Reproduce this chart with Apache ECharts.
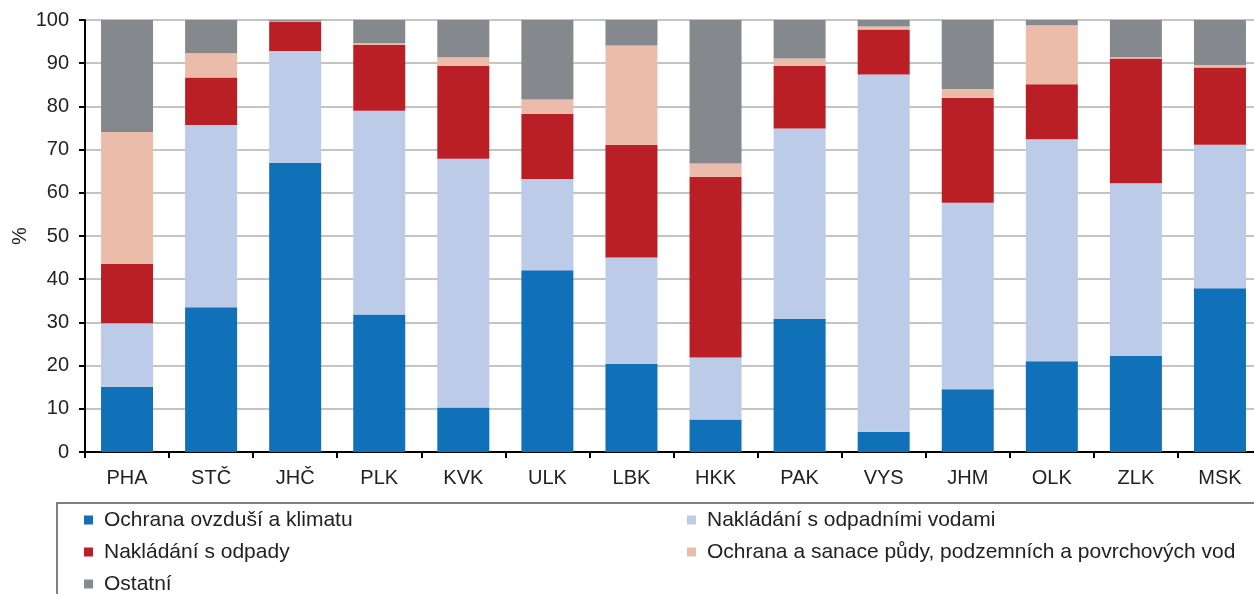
<!DOCTYPE html>
<html>
<head>
<meta charset="utf-8">
<script src="https://cdn.jsdelivr.net/npm/echarts@6/dist/echarts.min.js"></script>
<style>
  html, body { margin: 0; padding: 0; background: #fff; }
  #chart { width: 1254px; height: 594px; }
</style>
</head>
<body>
<div id="chart"></div>
<script>
const regions = ['PHA', 'STČ', 'JHČ', 'PLK', 'KVK', 'ULK', 'LBK', 'HKK', 'PAK', 'VYS', 'JHM', 'OLK', 'ZLK', 'MSK']
const yTicks = [0, 10, 20, 30, 40, 50, 60, 70, 80, 90, 100]

// podíly v %
const ovzdusi = [15.1, 33.5, 66.9, 31.8, 10.3, 42.1, 20.4, 7.5, 30.8, 4.7, 14.5, 21.0, 22.3, 37.9]
const odpadniVody = [14.7, 42.2, 25.9, 47.2, 57.6, 21.1, 24.6, 14.4, 44.1, 82.7, 43.2, 51.4, 39.9, 33.2]
const odpady = [13.7, 11.0, 6.8, 15.2, 21.5, 15.1, 26.1, 41.8, 14.5, 10.4, 24.3, 12.7, 28.9, 17.9]
const puda = [30.6, 5.6, 0.1, 0.4, 2.0, 3.3, 23.0, 3.1, 1.7, 0.7, 2.0, 13.7, 0.3, 0.6]
const ostatni = [25.9, 7.7, 0.3, 5.4, 8.6, 18.4, 5.9, 33.2, 8.9, 1.5, 16.0, 1.2, 8.6, 10.4]

const seriesDefs = [
  { name: 'Ochrana ovzduší a klimatu', data: ovzdusi, color: '#1070b8' },
  { name: 'Nakládání s odpadními vodami', data: odpadniVody, color: '#bccbe7' },
  { name: 'Nakládání s odpady', data: odpady, color: '#b91f24' },
  { name: 'Ochrana a sanace půdy, podzemních a povrchových vod', data: puda, color: '#ebbcaa' },
  { name: 'Ostatní', data: ostatni, color: '#85888d' },
]

// rozmístění legendy: [sloupec x, řádek y středu]
const legendPos = [[84, 520], [687, 520], [84, 552], [687, 552], [84, 584]]

const font = 'Liberation Sans, Arial, sans-serif'

const chart = echarts.init(document.getElementById('chart'))
chart.setOption({
  animation: false,
  textStyle: { fontFamily: font },
  grid: {
    left: 85,
    right: -8,
    top: 20,
    bottom: 142,
    outerBoundsMode: 'none',
    show: true,
    borderColor: '#222',
    borderWidth: 1.5,
  },
  legend: seriesDefs.map(function (s, i) {
    return {
      data: [s.name],
      left: legendPos[i][0],
      top: legendPos[i][1] - 11,
      padding: 0,
      icon: 'rect',
      itemWidth: 9,
      itemHeight: 9,
      selectedMode: false,
      textStyle: { fontFamily: font, fontSize: 21, color: '#222', lineHeight: 22, padding: [0, 0, 0, 6] },
    }
  }),
  graphic: [
    {
      type: 'rect',
      shape: { x: 57, y: 503, width: 1260, height: 200 },
      style: { fill: 'none', stroke: '#555', lineWidth: 1.5 },
    },
  ],
  xAxis: {
    type: 'category',
    data: regions,
    axisLine: { lineStyle: { color: '#000', width: 2 } },
    axisTick: { show: true, length: 6, lineStyle: { color: '#000', width: 2 } },
    axisLabel: { fontSize: 20, color: '#222', margin: 16 },
  },
  yAxis: {
    type: 'value',
    min: yTicks[0],
    max: yTicks[yTicks.length - 1],
    interval: 10,
    name: '%',
    nameLocation: 'middle',
    nameGap: 55,
    nameMoveOverlap: false,
    nameTextStyle: { fontSize: 20, color: '#222' },
    axisLine: { show: true, lineStyle: { color: '#000', width: 2 } },
    axisTick: { show: true, length: 6, lineStyle: { color: '#000', width: 2 } },
    axisLabel: { fontSize: 20, color: '#222', margin: 16 },
    splitLine: { lineStyle: { color: '#c4c4c4', width: 2 } },
  },
  series: seriesDefs.map(function (s) {
    return {
      name: s.name,
      type: 'bar',
      stack: 'total',
      barWidth: 52,
      data: s.data,
      itemStyle: { color: s.color },
    }
  }),
})
</script>
</body>
</html>
